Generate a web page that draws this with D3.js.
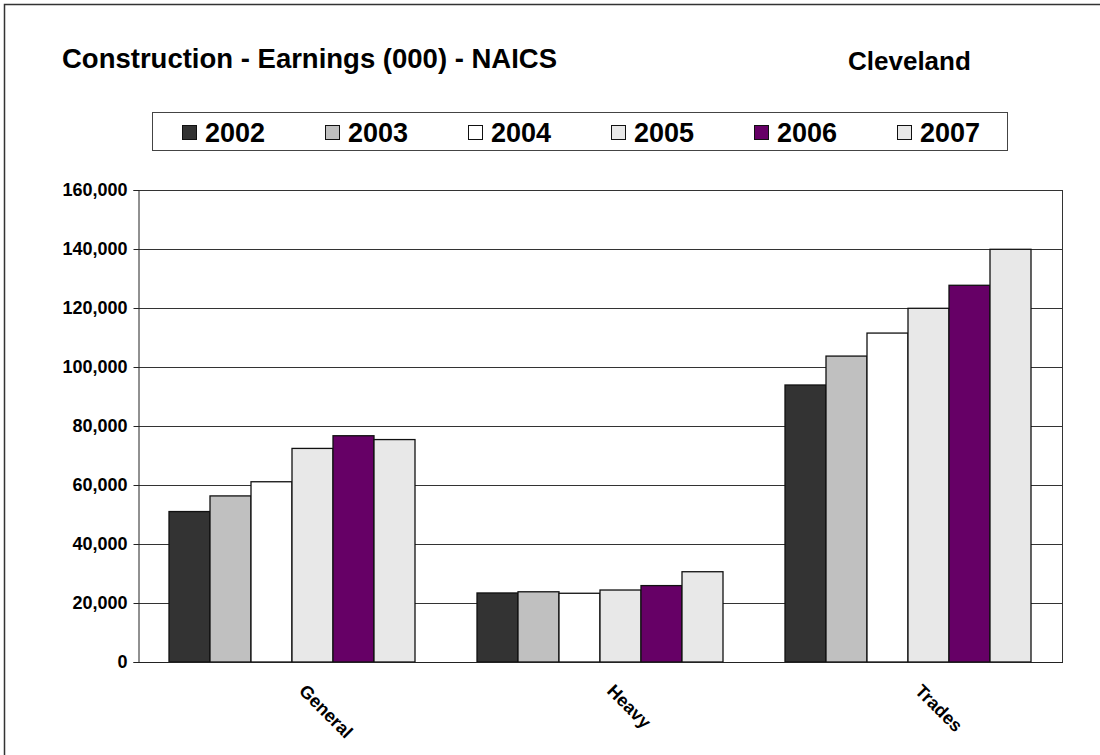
<!DOCTYPE html>
<html>
<head>
<meta charset="utf-8">
<script src="https://cdn.jsdelivr.net/npm/d3@7"></script>
<style>
  html, body { margin: 0; padding: 0; background: #fff; }
  svg { display: block; font-family: "Liberation Sans", Arial, sans-serif; }
</style>
</head>
<body>
<svg id="chart" width="1100" height="755"></svg>
<script>
const categories = ["General", "Heavy", "Trades"];
const years = ["2002", "2003", "2004", "2005", "2006", "2007"];
const generalValues = [51000, 56300, 61100, 72400, 76700, 75400];
const heavyValues   = [23400, 23800, 23300, 24400, 25900, 30600];
const tradesValues  = [93900, 103700, 111500, 119900, 127700, 139900];
const yTicks = [0, 20000, 40000, 60000, 80000, 100000, 120000, 140000, 160000];
const colors = ["#333333", "#C0C0C0", "#FFFFFF", "#E8E8E8", "#660066", "#E8E8E8"];

(function () {
const valuesByCategory = [generalValues, heavyValues, tradesValues];
const svg = d3.select("#chart");

// outer frame (extends beyond right/bottom edges)
svg.append("rect").attr("x", 4.5).attr("y", 4.5).attr("width", 1200).attr("height", 900)
  .attr("fill", "none").attr("stroke", "#333").attr("stroke-width", 1.5);

// titles
svg.append("text").attr("x", 62).attr("y", 68).attr("font-size", 27.5).attr("font-weight", "bold")
  .attr("fill", "#000").text("Construction - Earnings (000) - NAICS");
svg.append("text").attr("x", 848).attr("y", 70).attr("font-size", 26).attr("font-weight", "bold")
  .attr("fill", "#000").text("Cleveland");

// legend
const lg = svg.append("g");
lg.append("rect").attr("x", 152.5).attr("y", 112.5).attr("width", 855).attr("height", 38)
  .attr("fill", "#fff").attr("stroke", "#444").attr("stroke-width", 1);
const legendX = d3.scalePoint().domain(years).range([182, 182 + 143 * 5]);
years.forEach((yr, i) => {
  const x = legendX(yr);
  lg.append("rect").attr("x", x + 0.5).attr("y", 125.5).attr("width", 14).attr("height", 14)
    .attr("fill", colors[i]).attr("stroke", "#111").attr("stroke-width", 1);
  lg.append("text").attr("x", x + 23).attr("y", 142).attr("font-size", 27).attr("font-weight", "bold")
    .attr("fill", "#000").text(yr);
});

// plot
const pLeft = 138, pRight = 1062, pTop = 190, pBottom = 662;
const x0 = d3.scaleBand().domain(categories).range([pLeft, pRight]).paddingInner(0).paddingOuter(0);
const x1 = d3.scaleBand().domain(years).range([31, x0.bandwidth() - 31]).padding(0);
const y = d3.scaleLinear().domain([0, 160000]).range([pBottom, pTop]);

// gridlines
svg.append("g").selectAll("line").data(yTicks.filter(d => d > 0)).join("line")
  .attr("x1", pLeft).attr("x2", pRight)
  .attr("y1", d => Math.round(y(d)) + 0.5).attr("y2", d => Math.round(y(d)) + 0.5)
  .attr("stroke", "#333").attr("stroke-width", 1);

// right border of plot
svg.append("line").attr("x1", pRight + 0.5).attr("x2", pRight + 0.5).attr("y1", pTop).attr("y2", pBottom)
  .attr("stroke", "#333").attr("stroke-width", 1);

// bars
const groups = svg.append("g").selectAll("g").data(categories).join("g")
  .attr("transform", d => `translate(${x0(d)},0)`);
groups.selectAll("rect").data((c, ci) => years.map((yr, i) => ({ yr, i, v: valuesByCategory[ci][i] })))
  .join("rect")
  .attr("x", d => x1(d.yr))
  .attr("y", d => y(d.v))
  .attr("width", x1.bandwidth())
  .attr("height", d => y(0) - y(d.v))
  .attr("fill", d => colors[d.i])
  .attr("stroke", "#111").attr("stroke-width", 1.3);

// y axis
const yAxis = d3.axisLeft(y).tickValues(yTicks).tickSize(5).tickPadding(6)
  .tickFormat(d3.format(","));
const ya = svg.append("g").attr("transform", `translate(${pLeft + 0.5},0)`).call(yAxis);
ya.select(".domain").attr("stroke", "#222");
ya.selectAll(".tick line").attr("stroke", "#222");
ya.selectAll(".tick text").attr("font-size", 18).attr("font-weight", "bold").attr("fill", "#000")
  .attr("font-family", "'Liberation Sans', Arial, sans-serif");

// x axis baseline
svg.append("line").attr("x1", pLeft).attr("x2", pRight + 1).attr("y1", pBottom + 0.5).attr("y2", pBottom + 0.5)
  .attr("stroke", "#222").attr("stroke-width", 1);

// x labels
svg.append("g").selectAll("text").data(categories).join("text")
  .attr("transform", d => `translate(${x0(d) + x0.bandwidth() / 2 + 6},${pBottom + 30}) rotate(45)`)
  .attr("font-size", 18).attr("font-weight", "bold").attr("fill", "#000")
  .attr("text-anchor", "start")
  .text(d => d);
})();
</script>
</body>
</html>
